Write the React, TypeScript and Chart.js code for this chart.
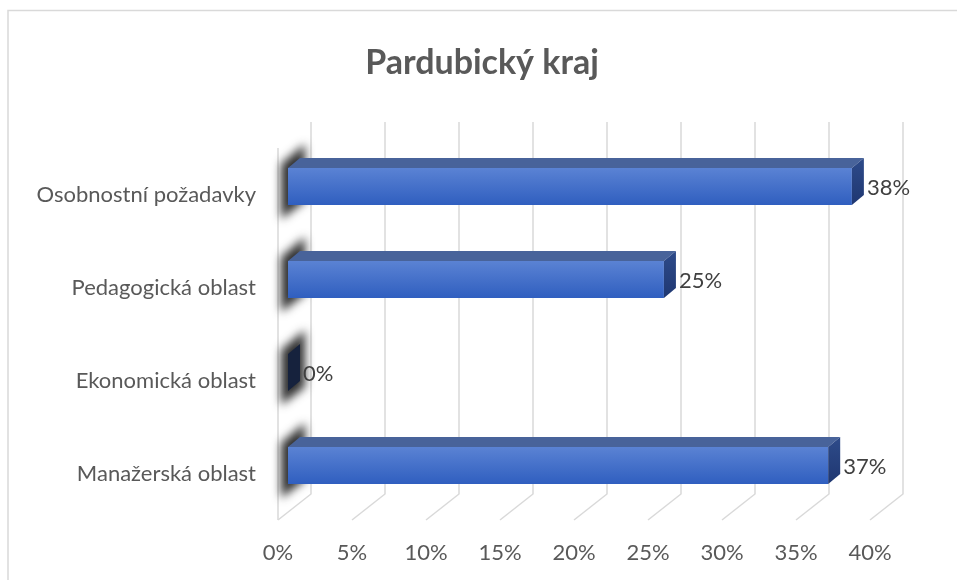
import { useEffect, useRef } from "react";
import { Chart, registerables } from "chart.js";

Chart.register(...registerables);

const chartTitle = "Pardubický kraj";
const categories = ["Osobnostní požadavky", "Pedagogická oblast", "Ekonomická oblast", "Manažerská oblast"];
const values = [38.1, 25.4, 0, 36.5];
const valueLabels = ["38%", "25%", "0%", "37%"];
const tickValues = [0, 5, 10, 15, 20, 25, 30, 35, 40];

const FONT = "Lato, 'Open Sans', sans-serif";
const TEXT = "#595959";
const GRID = "#d9d9d9";
// 3D geometry (pixels)
const WALL_DX = 33;
const WALL_DY = 26;
const BAR_SHIFT_X = 10;
const BAR_SHIFT_Y = -8;
const DEPTH_X = 12;
const DEPTH_Y = -10;

const threeD = {
  id: "threeD",
  beforeDraw(chart: any) {
    const { ctx, chartArea, scales } = chart;
    const xs = scales.x;
    ctx.save();
    ctx.fillStyle = "#ffffff";
    ctx.fillRect(0, 0, chart.width, chart.height);
    ctx.strokeStyle = "#d9d9d9";
    ctx.lineWidth = 1.5;
    ctx.strokeRect(8, 10.5, chart.width + 20, chart.height + 20);
    ctx.fillStyle = TEXT;
    ctx.font = `bold 34px ${FONT}`;
    ctx.textAlign = "center";
    ctx.textBaseline = "alphabetic";
    ctx.fillText(chartTitle, 482, 74);
    ctx.strokeStyle = GRID;
    ctx.lineWidth = 1.5;
    tickValues.forEach((v) => {
      const xf = xs.getPixelForValue(v);
      const xb = xf + WALL_DX;
      ctx.beginPath();
      ctx.moveTo(xb, chartArea.top - WALL_DY);
      ctx.lineTo(xb, chartArea.bottom - WALL_DY);
      ctx.lineTo(xf, chartArea.bottom);
      ctx.stroke();
    });
    const x0 = xs.getPixelForValue(0);
    ctx.beginPath();
    ctx.moveTo(x0, chartArea.top);
    ctx.lineTo(x0, chartArea.bottom);
    ctx.stroke();
    ctx.restore();
  },
  beforeDatasetsDraw(chart: any) {
    const { ctx } = chart;
    const meta = chart.getDatasetMeta(0);
    const x0 = chart.scales.x.getPixelForValue(0);
    ctx.save();
    ctx.filter = "blur(5px)";
    ctx.fillStyle = "rgba(25,25,25,0.9)";
    meta.data.forEach((el: any) => {
      const p = el.getProps(["y", "height"], true);
      const t = p.y + BAR_SHIFT_Y - p.height / 2;
      const b = p.y + BAR_SHIFT_Y + p.height / 2;
      ctx.beginPath();
      ctx.moveTo(x0 + 3, t - 4);
      ctx.lineTo(x0 + 27, t - 24);
      ctx.lineTo(x0 + 27, b - 4);
      ctx.lineTo(x0 + 3, b + 14);
      ctx.closePath();
      ctx.fill();
    });
    ctx.restore();
    ctx.save();
    ctx.translate(BAR_SHIFT_X, BAR_SHIFT_Y);
  },
  afterDatasetsDraw(chart: any) {
    const { ctx } = chart;
    const meta = chart.getDatasetMeta(0);
    meta.data.forEach((el: any, i: number) => {
      const p = el.getProps(["x", "y", "base", "height"], true);
      const top = p.y - p.height / 2;
      const bot = p.y + p.height / 2;
      const left = Math.min(p.base, p.x);
      const right = Math.max(p.base, p.x);
      if (right - left > 0.5) {
        ctx.fillStyle = "#48639a";
        ctx.beginPath();
        ctx.moveTo(left, top);
        ctx.lineTo(right, top);
        ctx.lineTo(right + DEPTH_X, top + DEPTH_Y);
        ctx.lineTo(left + DEPTH_X, top + DEPTH_Y);
        ctx.closePath();
        ctx.fill();
      }
      let side: any;
      if (values[i] === 0) {
        side = "#16223d";
      } else {
        side = ctx.createLinearGradient(0, top + DEPTH_Y, 0, bot);
        side.addColorStop(0, "#2e4b8a");
        side.addColorStop(1, "#1f3771");
      }
      ctx.fillStyle = side;
      ctx.beginPath();
      ctx.moveTo(right, top);
      ctx.lineTo(right + DEPTH_X, top + DEPTH_Y);
      ctx.lineTo(right + DEPTH_X, bot + DEPTH_Y);
      ctx.lineTo(right, bot);
      ctx.closePath();
      ctx.fill();
    });
    ctx.restore();
    ctx.save();
    ctx.fillStyle = "#404040";
    ctx.font = `22px ${FONT}`;
    ctx.textAlign = "left";
    ctx.textBaseline = "middle";
    meta.data.forEach((el: any, i: number) => {
      const p = el.getProps(["x", "y"], true);
      ctx.fillText(valueLabels[i], p.x + BAR_SHIFT_X + 15, p.y + BAR_SHIFT_Y + 1);
    });
    ctx.restore();
  },
};

export default function App() {
  const ref = useRef<HTMLCanvasElement | null>(null);
  useEffect(() => {
    document.body.style.margin = "0";
    const canvas = ref.current;
    if (!canvas) return;
    const chart = new Chart(canvas, {
      type: "bar",
      data: {
        labels: categories,
        datasets: [
          {
            data: values,
            barPercentage: 0.4,
            categoryPercentage: 1,
            backgroundColor: (c: any) => {
              const ch = c.chart;
              const ys = ch.scales && ch.scales.y;
              if (!ys || c.dataIndex === undefined) return "#4472c4";
              const cy = ys.getPixelForValue(c.dataIndex);
              if (!Number.isFinite(cy)) return "#4472c4";
              const h = 19;
              const g = ch.ctx.createLinearGradient(0, cy - h, 0, cy + h);
              g.addColorStop(0, "#5b83d4");
              g.addColorStop(1, "#2f5ebf");
              return g;
            },
            borderWidth: 0,
          },
        ],
      },
      options: {
        indexAxis: "y",
        responsive: false,
        animation: false,
        devicePixelRatio: 1,
        layout: { padding: { left: 0, top: 148, right: 87, bottom: 0 } },
        plugins: {
          legend: { display: false },
          title: { display: false },
          tooltip: { enabled: false },
        },
        scales: {
          x: {
            min: 0,
            max: 40,
            position: "bottom",
            afterBuildTicks: (s: any) => {
              s.ticks = tickValues.map((v) => ({ value: v }));
            },
            ticks: {
              callback: (v: any) => `${v}%`,
              font: { family: FONT, size: 22 },
              color: TEXT,
              padding: 20,
              maxRotation: 0,
              autoSkip: false,
            },
            grid: { display: false, drawTicks: false },
            border: { display: false },
            afterFit: (s: any) => {
              s.height = 60;
            },
          },
          y: {
            ticks: {
              font: { family: FONT, size: 22 },
              color: TEXT,
              padding: 22,
            },
            grid: { display: false, drawTicks: false },
            border: { display: false },
            afterFit: (s: any) => {
              s.width = 278;
            },
          },
        },
      } as any,
      plugins: [threeD],
    });
    return () => chart.destroy();
  }, []);
  return <canvas ref={ref} width={957} height={580} style={{ display: "block" }} />;
}
